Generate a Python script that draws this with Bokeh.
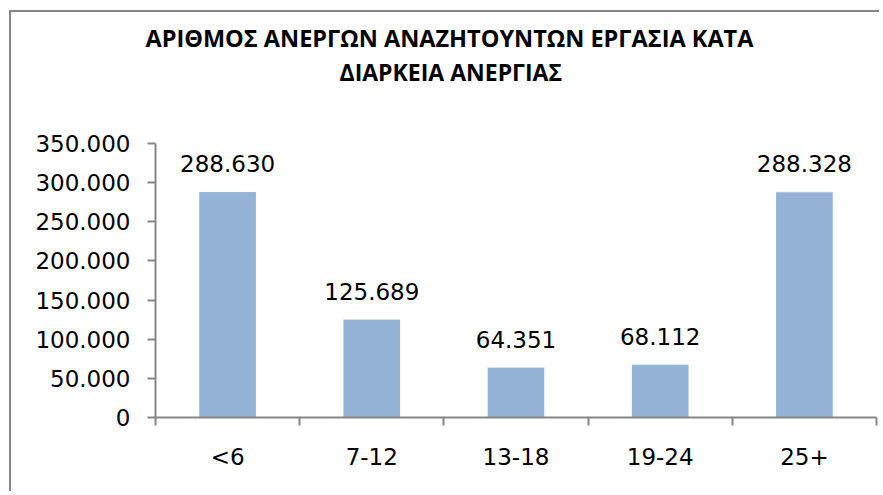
from bokeh.plotting import figure
from bokeh.models import FixedTicker, Title, ColumnDataSource, Range1d
from bokeh.core.properties import value
from bokeh.embed import file_html
from bokeh.resources import INLINE

categories = ["<6", "7-12", "13-18", "19-24", "25+"]
values = [288630, 125689, 64351, 68112, 288328]
y_ticks = [0, 50000, 100000, 150000, 200000, 250000, 300000, 350000]
title_line1 = "ΑΡΙΘΜΟΣ ΑΝΕΡΓΩΝ ΑΝΑΖΗΤΟΥΝΤΩΝ ΕΡΓΑΣΙΑ ΚΑΤΑ"
title_line2 = "ΔΙΑΡΚΕΙΑ ΑΝΕΡΓΙΑΣ"


def fmt(v):
    return f"{v:,}".replace(",", ".")


xs = [i + 0.5 for i in range(len(categories))]
src = ColumnDataSource(dict(x=xs, top=values, label=[fmt(v) for v in values]))

p = figure(width=870, height=481, output_backend="svg", toolbar_location=None,
           x_range=Range1d(0, len(categories)), y_range=Range1d(0, 350000),
           min_border_left=144, min_border_right=5, min_border_top=131,
           min_border_bottom=76)
p.styles = {"border-left": "2px solid #868686", "border-top": "2px solid #868686",
            "margin-left": "9px", "margin-top": "10px"}
p.outline_line_color = None
p.xgrid.visible = False
p.ygrid.visible = False

p.vbar(x="x", top="top", width=0.4, bottom=0, source=src,
       fill_color="#95B3D7", line_color="#FFFFFF", line_width=1)
p.text(x="x", y="top", text="label", source=src, text_align="center",
       text_baseline="alphabetic", y_offset=-28,
       text_font=value("DejaVu Sans"), text_font_size="23px", text_color="#000000")

axis_color = "#868686"
# x axis
p.xaxis.ticker = FixedTicker(ticks=xs, minor_ticks=list(range(len(categories) + 1)))
p.xaxis.major_label_overrides = {x: c for x, c in zip(xs, categories)}
p.xaxis.major_tick_out = 0
p.xaxis.major_tick_in = 0
p.xaxis.minor_tick_out = 8
p.xaxis.minor_tick_in = 0
p.xaxis.minor_tick_line_color = axis_color
p.xaxis.minor_tick_line_width = 2
p.xaxis.axis_line_color = axis_color
p.xaxis.axis_line_width = 2
p.xaxis.major_label_standoff = 18
p.xaxis.major_label_text_font = "DejaVu Sans"
p.xaxis.major_label_text_font_size = "23px"
p.xaxis.major_label_text_color = "#000000"

# y axis
p.yaxis.ticker = FixedTicker(ticks=y_ticks, minor_ticks=[])
p.yaxis.major_label_overrides = {v: fmt(v) for v in y_ticks}
p.yaxis.major_tick_out = 8
p.yaxis.major_tick_in = 0
p.yaxis.major_tick_line_color = axis_color
p.yaxis.major_tick_line_width = 2
p.yaxis.axis_line_color = axis_color
p.yaxis.axis_line_width = 2
p.yaxis.major_label_standoff = 17
p.yaxis.major_label_text_font = "DejaVu Sans"
p.yaxis.major_label_text_font_size = "23px"
p.yaxis.major_label_text_color = "#000000"

spacer = Title(text=" ", align="left", standoff=52, text_font_size="2px")
t2 = Title(text=title_line2, align="left", offset=184, standoff=0,
           text_font="Open Sans", text_font_style="bold", text_font_size="23px",
           text_color="#000000")
t1 = Title(text=title_line1, align="left", offset=-10, standoff=0,
           text_font="Open Sans", text_font_style="bold", text_font_size="23.5px",
           text_color="#000000")
p.add_layout(spacer, "above")
p.add_layout(t2, "above")
p.add_layout(t1, "above")

open("out.html", "w").write(file_html(p, INLINE))
